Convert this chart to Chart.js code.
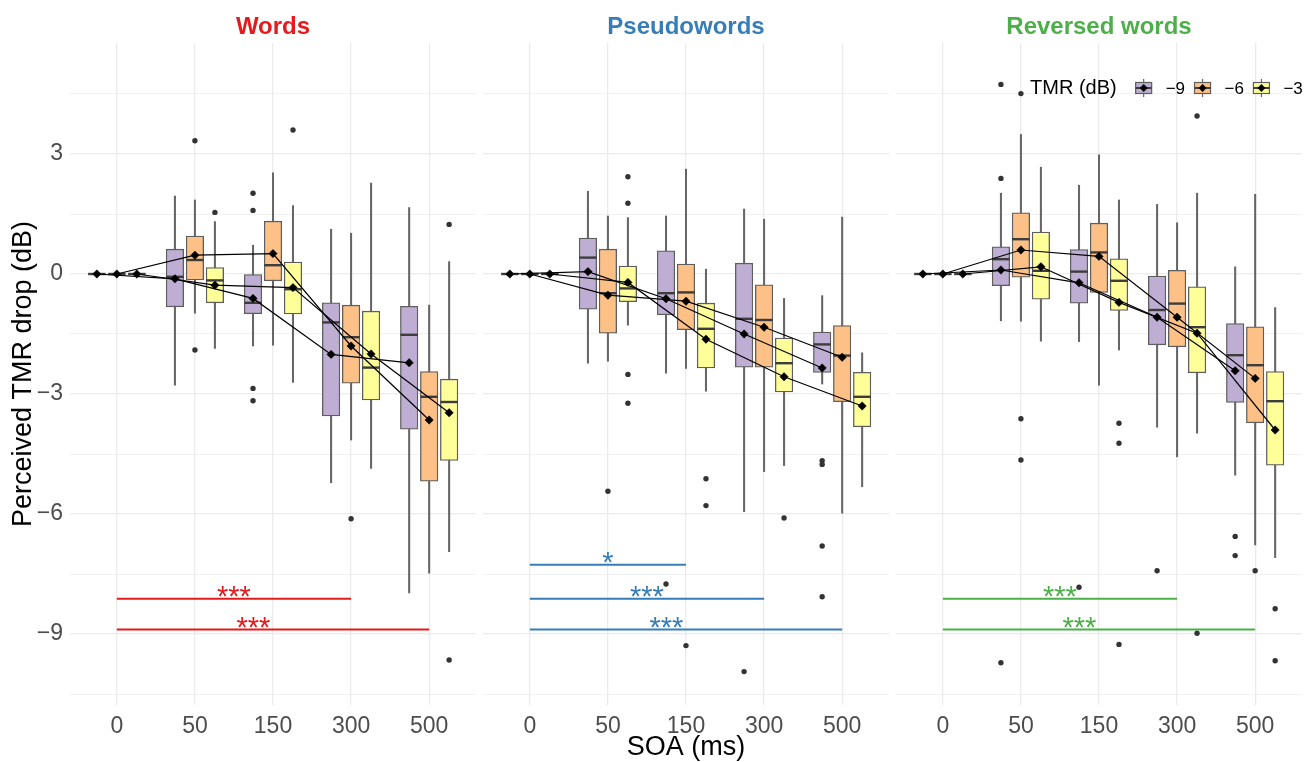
<!DOCTYPE html>
<html>
<head>
<meta charset="utf-8">
<script src="https://cdn.jsdelivr.net/npm/chart.js@4"></script>
<style>
  body { margin: 0; background: #fff; }
  #wrap { position: relative; width: 1309px; height: 762px; }
  #wrap canvas { position: absolute; top: 0; }
</style>
</head>
<body>
<div id="wrap">
  <canvas id="c0" width="476" height="762" style="left:0px"></canvas>
  <canvas id="c1" width="406" height="762" style="left:483px"></canvas>
  <canvas id="c2" width="413" height="762" style="left:896px"></canvas>
</div>
<script>
// categories
const soaLabels = ['0', '50', '150', '300', '500'];
const tmrLabels = ['\u22129', '\u22126', '\u22123'];
const panelTitles = ['Words', 'Pseudowords', 'Reversed words'];
const yMajor = [-9, -6, -3, 0, 3];
const yMinor = [-10.5, -7.5, -4.5, -1.5, 1.5, 4.5];

// box stats, one row per TMR (-9, -6, -3), one value per SOA
const wordsLo   = [[0, -2.78, -1.80, -5.22, -7.97], [0, -0.98, -1.78, -4.15, -7.48], [0, -1.86, -2.71, -4.86, -6.94]];
const wordsQ1   = [[0, -0.82, -0.99, -3.55, -3.88], [0, -0.15, -0.17, -2.73, -5.18], [0, -0.72, -1.00, -3.15, -4.66]];
const wordsMed  = [[0, -0.07, -0.72, -1.21, -1.52], [0,  0.35,  0.22, -1.58, -3.07], [0, -0.16, -0.38, -2.34, -3.20]];
const wordsQ3   = [[0,  0.62,  0.00, -0.72, -0.81], [0,  0.95,  1.32, -0.78, -2.44], [0,  0.16,  0.30, -0.93, -2.63]];
const wordsHi   = [[0,  1.95,  0.72,  1.12,  1.66], [0,  1.85,  2.53,  1.02, -0.78], [0,  1.31,  1.71,  2.27,  0.31]];
const wordsMean = [[0, -0.12, -0.61, -2.01, -2.22], [0,  0.47,  0.51, -1.80, -3.65], [0, -0.28, -0.34, -2.00, -3.47]];
// outliers: [tmr index, soa index, value]
const wordsOut = [[1, 1, 3.33], [1, 1, -1.9], [2, 1, 1.54], [0, 2, 2.02], [0, 2, 1.59], [0, 2, -2.86], [0, 2, -3.17],
  [2, 2, 3.6], [1, 3, -6.12], [2, 4, 1.24], [2, 4, -9.65]];

const pseudoLo   = [[0, -2.23, -2.48, -5.94, -2.75], [0, -2.18, -2.36, -4.94, -5.98], [0, -1.28, -2.93, -4.79, -5.32]];
const pseudoQ1   = [[0, -0.88, -1.02, -2.33, -2.46], [0, -1.48, -1.39, -2.33, -3.19], [0, -0.69, -2.35, -2.95, -3.82]];
const pseudoMed  = [[0,  0.41, -0.48, -1.12, -1.76], [0, -0.48, -0.46, -1.15, -2.04], [0, -0.36, -1.37, -2.23, -3.07]];
const pseudoQ3   = [[0,  0.90,  0.58,  0.27, -1.45], [0,  0.62,  0.25, -0.27, -1.29], [0,  0.20, -0.73, -1.60, -2.46]];
const pseudoHi   = [[0,  2.07,  1.45,  1.62, -0.54], [0,  1.45,  2.62,  1.37,  1.42], [0,  1.41,  0.12, -0.61, -1.97]];
const pseudoMean = [[0,  0.06, -0.62, -1.50, -2.35], [0, -0.53, -0.68, -1.33, -2.08], [0, -0.21, -1.63, -2.57, -3.30]];
const pseudoOut = [[1, 1, -5.43], [2, 1, 2.43], [2, 1, 1.77], [2, 1, -2.51], [2, 1, -3.23], [0, 2, -7.75], [1, 2, -9.29],
  [2, 2, -5.12], [2, 2, -5.79], [0, 3, -9.94], [2, 3, -6.1], [0, 4, -4.67], [0, 4, -4.76], [0, 4, -6.8], [0, 4, -8.07]];

const revLo   = [[0, -1.17, -1.69, -3.83, -5.03], [0, -1.18, -2.78, -4.57, -6.77], [0, -1.68, -1.90, -3.98, -7.09]];
const revQ1   = [[0, -0.29, -0.73, -1.77, -3.21], [0, -0.08, -0.46, -1.82, -3.72], [0, -0.63, -0.91, -2.47, -4.78]];
const revMed  = [[0,  0.37,  0.06, -0.90, -2.03], [0,  0.87,  0.54, -0.74, -2.28], [0,  0.08, -0.17, -1.33, -3.18]];
const revQ3   = [[0,  0.68,  0.61, -0.05, -1.24], [0,  1.53,  1.27,  0.09, -1.32], [0,  1.05,  0.38, -0.32, -2.44]];
const revHi   = [[0,  2.02,  2.22,  1.74,  0.18], [0,  3.49,  2.98,  1.28,  1.99], [0,  2.67,  1.85,  2.02, -0.84]];
const revMean = [[0,  0.10, -0.22, -1.08, -2.42], [0,  0.60,  0.44, -1.08, -2.61], [0,  0.18, -0.71, -1.48, -3.90]];
const revOut = [[0, 1, 2.39], [0, 1, 4.74], [0, 1, -9.72], [1, 1, 4.51], [1, 1, -3.62], [1, 1, -4.65], [0, 2, -7.83],
  [2, 2, -3.73], [2, 2, -4.23], [2, 2, -9.26], [0, 3, -7.42], [2, 3, 3.95], [2, 3, -8.98], [0, 4, -6.56], [0, 4, -7.04],
  [1, 4, -7.42], [2, 4, -8.37], [2, 4, -9.67]];

// significance: [from soa, to soa, level (dB), label, label at soa]
const wordsSig  = [[0, 3, -8.12, '***', 1.5], [0, 4, -8.89, '***', 1.75]];
const pseudoSig = [[0, 2, -7.27, '*', 1], [0, 3, -8.12, '***', 1.5], [0, 4, -8.89, '***', 1.75]];
const revSig    = [[0, 3, -8.12, '***', 1.5], [0, 4, -8.89, '***', 1.75]];

const FONT = '"Liberation Sans", Arial, Helvetica, sans-serif';
Chart.defaults.font.family = FONT;
const panelColors = ['#E41A1C', '#377EB8', '#4DAF4A'];
const tmrFills = ['#BEAED4', '#FDC086', '#FFFF99'];
const dodge = [-0.256, 0, 0.256];

const panels = [
  { lo: wordsLo, q1: wordsQ1, med: wordsMed, q3: wordsQ3, hi: wordsHi, mean: wordsMean, out: wordsOut, sig: wordsSig },
  { lo: pseudoLo, q1: pseudoQ1, med: pseudoMed, q3: pseudoQ3, hi: pseudoHi, mean: pseudoMean, out: pseudoOut, sig: pseudoSig },
  { lo: revLo, q1: revQ1, med: revMed, q3: revQ3, hi: revHi, mean: revMean, out: revOut, sig: revSig }
];

function buildDatasets(p, color) {
  const ds = [];
  for (let t = 0; t < 3; t++) {
    const xs = soaLabels.map((_, c) => c + dodge[t]);
    ds.push({ type: 'line', data: xs.map((x, c) => ({ x, y: p.mean[t][c] })), borderColor: '#000', borderWidth: 1.2,
      pointStyle: 'rectRot', pointRadius: 4.2, pointBackgroundColor: '#000', pointBorderColor: '#000', pointBorderWidth: 0.5, order: 0 });
    ds.push({ type: 'line', showLine: false, data: xs.map((x, c) => ({ x, y: p.med[t][c] })),
      pointStyle: 'line', pointRadius: 8.75, pointBorderWidth: 2.4, pointBorderColor: '#3d3d3d', order: 2 });
    ds.push({ type: 'bar', data: xs.map((x, c) => ({ x, y: [p.q1[t][c], p.q3[t][c]] })), backgroundColor: tmrFills[t],
      borderColor: '#5e5e5e', borderWidth: 1.3, borderSkipped: false, barThickness: 17.5, grouped: false, order: 3 });
    ds.push({ type: 'bar', data: xs.map((x, c) => ({ x, y: [p.lo[t][c], p.hi[t][c]] })), backgroundColor: '#666',
      barThickness: 1.4, grouped: false, order: 4 });
  }
  ds.push({ type: 'line', showLine: false, data: p.out.map(o => ({ x: o[1] + dodge[o[0]], y: o[2] })),
    pointRadius: 2.7, pointBackgroundColor: '#333', pointBorderWidth: 0, order: 2 });
  p.sig.forEach(s => ds.push({ type: 'line', data: [{ x: s[0], y: s[2] }, { x: s[1], y: s[2] }],
    borderColor: color, borderWidth: 2, pointRadius: 0, order: 1 }));
  return ds;
}

const sigText = {
  id: 'sigText',
  afterDatasetsDraw(chart, args, o) {
    const { ctx, scales: { x, y } } = chart;
    ctx.save();
    ctx.fillStyle = o.color;
    ctx.font = '29px ' + FONT;
    ctx.textAlign = 'center';
    ctx.textBaseline = 'alphabetic';
    o.rows.forEach(r => ctx.fillText(r[3], x.getPixelForValue(r[4]), y.getPixelForValue(r[2]) + 7.3));
    ctx.restore();
  }
};

const tmrLegend = {
  id: 'tmrLegend',
  afterDraw(chart, args, o) {
    if (!o.show) return;
    const ctx = chart.ctx;
    const cy = chart.chartArea.top + 45;
    let xp = chart.chartArea.left + 134;
    ctx.save();
    ctx.font = '20px ' + FONT;
    ctx.textBaseline = 'middle';
    ctx.fillStyle = '#000';
    ctx.fillText('TMR (dB)', xp, cy);
    xp += ctx.measureText('TMR (dB)').width + 19;
    ctx.font = '17px ' + FONT;
    tmrLabels.forEach((lab, t) => {
      const cx = xp + 8;
      ctx.strokeStyle = '#666';
      ctx.lineWidth = 1.2;
      ctx.beginPath(); ctx.moveTo(cx, cy - 9); ctx.lineTo(cx, cy + 9); ctx.stroke();
      ctx.fillStyle = tmrFills[t];
      ctx.fillRect(xp, cy - 5.5, 16, 11);
      ctx.strokeStyle = '#5e5e5e';
      ctx.strokeRect(xp, cy - 5.5, 16, 11);
      ctx.strokeStyle = '#3d3d3d'; ctx.lineWidth = 2;
      ctx.beginPath(); ctx.moveTo(xp, cy); ctx.lineTo(xp + 16, cy); ctx.stroke();
      ctx.fillStyle = '#000';
      ctx.beginPath(); ctx.moveTo(cx, cy - 4); ctx.lineTo(cx + 4, cy); ctx.lineTo(cx, cy + 4); ctx.lineTo(cx - 4, cy); ctx.closePath(); ctx.fill();
      xp += 16 + 14;
      ctx.fillText(lab, xp, cy + 1);
      xp += ctx.measureText(lab).width + 9.5;
    });
    ctx.restore();
  }
};

function makeChart(id, i) {
  const first = i === 0;
  return new Chart(document.getElementById(id), {
    type: 'bar',
    data: { datasets: buildDatasets(panels[i], panelColors[i]) },
    plugins: [sigText, tmrLegend],
    options: {
      responsive: false,
      animation: false,
      events: [],
      layout: { autoPadding: false, padding: { left: 0, right: i === 2 ? 7 : 0, top: 0, bottom: 0 } },
      plugins: {
        legend: { display: false },
        tooltip: { enabled: false },
        title: { display: true, text: panelTitles[i], color: panelColors[i], fullSize: false,
          font: { size: 24, weight: 'bold' }, padding: { top: 13.2, bottom: 1 } },
        sigText: { rows: panels[i].sig, color: panelColors[i] },
        tmrLegend: { show: i === 2 }
      },
      scales: {
        x: {
          type: 'linear', min: -0.6, max: 4.6, offset: false,
          afterBuildTicks: s => { s.ticks = soaLabels.map((_, k) => ({ value: k })); },
          afterFit: s => { s.height = 57; },
          ticks: { color: '#4D4D4D', font: { size: 23 }, padding: 8, callback: v => soaLabels[v] },
          grid: { color: '#EBEBEB', lineWidth: 1.3, drawTicks: false, offset: false },
          border: { display: false },
          title: { display: i === 1, text: 'SOA (ms)', color: '#000', font: { size: 27, lineHeight: 1.04 }, padding: 0 }
        },
        y: {
          type: 'linear', min: -10.775, max: 5.775,
          afterBuildTicks: s => { s.ticks = yMinor.concat(yMajor).sort((a, b) => a - b).map(v => ({ value: v })); },
          afterFit: s => { s.width = first ? 70 : 0; },
          ticks: { display: first, color: '#4D4D4D', font: { size: 23 }, padding: 7,
            callback: v => yMajor.includes(v) ? (v < 0 ? '\u2212' + Math.abs(v) : String(v)) : '' },
          grid: { color: '#EBEBEB', lineWidth: c => yMajor.includes(c.tick.value) ? 1.3 : 0.7, drawTicks: false },
          border: { display: false },
          title: { display: first, text: 'Perceived TMR drop (dB)', color: '#000', font: { size: 27 }, padding: { top: 7.8 } }
        }
      }
    }
  });
}

['c0', 'c1', 'c2'].forEach((id, i) => makeChart(id, i));
</script>
</body>
</html>
